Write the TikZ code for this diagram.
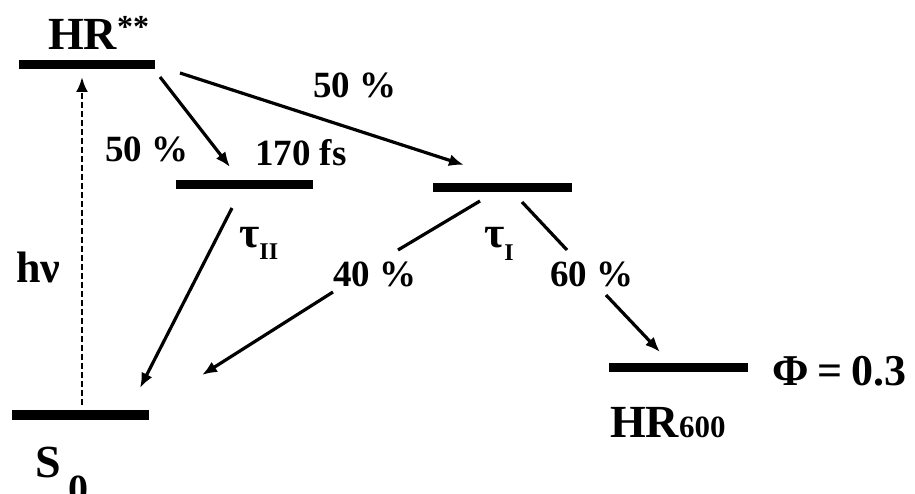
\documentclass[tikz,border=0pt]{standalone}
\usepackage{fontspec}
\setmainfont{Liberation Serif}
\usetikzlibrary{arrows.meta}
\begin{document}
\begin{tikzpicture}[x=1pt,y=-1pt,
 lvl/.style={fill=black, inner sep=0pt, minimum height=9.5pt},
 arr/.style={line width=3.2pt, -{Latex[length=15pt,width=12pt]}},
 seg/.style={line width=3.2pt},
 lab/.style={inner sep=0pt, font=\bfseries\fontsize{37}{40}\selectfont},
 big/.style={inner sep=0pt, font=\bfseries\fontsize{46}{50}\selectfont}]
\useasboundingbox (0,0) rectangle (915,494);
% levels
\node[lvl, minimum width=136pt] (hr) at (87,64.5) {};
\node[lvl, minimum width=137pt] (l170) at (244.5,184.5) {};
\node[lvl, minimum width=139pt] (lI) at (502.5,187.5) {};
\node[lvl, minimum width=137pt] (s0) at (80.5,415) {};
\node[lvl, minimum width=139pt] (h600) at (678.5,367.5) {};
% labels
\node[big, anchor=base west] (thr) at (48,50) {HR\raisebox{12pt}{\fontsize{32}{34}\selectfont **}};
\node[lab, anchor=base west] (p50a) at (105,162) {50 \%};
\node[lab, anchor=base west] (p50b) at (313,98) {50 \%};
\node[lab, anchor=base west] (t170) at (255,166) {170 fs};
\node[lab, anchor=base west] (p40) at (333,287) {40 \%};
\node[lab, anchor=base west] (p60) at (550,287) {60 \%};
\node[inner sep=0pt, font=\bfseries\fontsize{44}{48}\selectfont, anchor=base west] (hnu) at (16,282) {hν};
\node[inner sep=0pt, font=\bfseries\fontsize{44}{48}\selectfont, anchor=base west] (tII) at (239,248) {τ\raisebox{-12pt}{\fontsize{24}{26}\selectfont II}};
\node[inner sep=0pt, font=\bfseries\fontsize{44}{48}\selectfont, anchor=base west] (tI) at (484,248) {τ\raisebox{-13pt}{\fontsize{24}{26}\selectfont I}};
\node[big, anchor=base west] (ts0) at (35,477) {S};
\node[inner sep=0pt, font=\bfseries\fontsize{40}{44}\selectfont, anchor=base west] (ts0sub) at (68,502) {0};
\node[big, anchor=base west] (thr600) at (610,437) {HR\fontsize{31}{34}\selectfont 600};
\node[inner sep=0pt, font=\bfseries\fontsize{44}{48}\selectfont, anchor=base west] (tphi) at (772,385) {Φ\hspace{0.2em}=\hspace{0.2em}0.3};
% connector end points
\coordinate (hv0) at (82,405);
\coordinate (hv1) at (82,77);
\coordinate (a1s) at (160,77);
\coordinate (a1e) at (230,167);
\coordinate (a2s) at (180,73);
\coordinate (a2e) at (464,165);
\coordinate (a3s) at (232,208);
\coordinate (a3e) at (140,388);
\coordinate (a4s) at (480,201);
\coordinate (a4m) at (398,250);
\coordinate (a4n) at (333,292);
\coordinate (a4e) at (202,375);
\coordinate (a5s) at (522,202);
\coordinate (a5m) at (567,250);
\coordinate (a5n) at (606,295);
\coordinate (a5e) at (660,352);
% connectors
\draw[line width=2.8pt, dash pattern=on 6pt off 3pt, -{Latex[length=15pt,width=12pt]}] (hv0) -- (hv1);
\draw[arr] (a1s) -- (a1e);
\draw[arr] (a2s) -- (a2e);
\draw[arr] (a3s) -- (a3e);
\draw[seg] (a4s) -- (a4m);
\draw[arr] (a4n) -- (a4e);
\draw[seg] (a5s) -- (a5m);
\draw[arr] (a5n) -- (a5e);
\end{tikzpicture}
\end{document}
